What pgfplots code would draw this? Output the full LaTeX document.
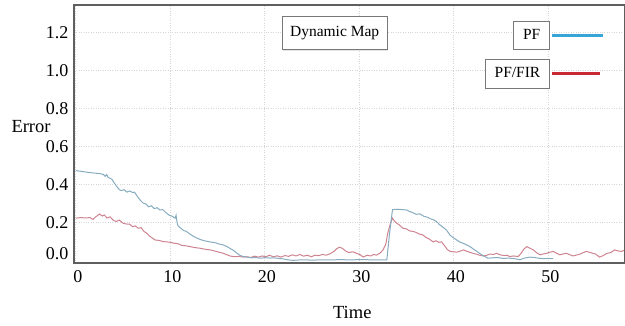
\documentclass[border=0pt]{standalone}
\usepackage{pgfplots}
\pgfplotsset{compat=1.18}
\usepackage{fontspec}
\setmainfont{Liberation Serif}
\usetikzlibrary{shadows}
\definecolor{pfline}{RGB}{135,172,192}
\definecolor{firline}{RGB}{206,132,144}
\definecolor{pfleg}{RGB}{55,165,215}
\definecolor{firleg}{RGB}{200,40,50}
\definecolor{gridc}{RGB}{215,215,215}
\definecolor{framec}{RGB}{95,95,95}
\definecolor{boxc}{RGB}{120,120,120}
\begin{document}
\begin{tikzpicture}
\begin{axis}[
  name=ax,
  scale only axis,
  width=551pt, height=258pt,
  xmin=-0.2, xmax=58.1,
  ymin=-0.011, ymax=1.347,
  xtick={0,10,20,30,40,50},
  ytick={0.2,0.4,0.6,0.8,1.0,1.2},
  extra y ticks={0},
  extra y tick style={grid=none, yticklabel style={yshift=7pt}},
  yticklabel style={/pgf/number format/.cd, fixed, fixed zerofill, precision=1, /tikz/.cd},
  /pgf/number format/assume math mode=true,
  tick label style={font=\fontsize{18}{18}\selectfont},
  xticklabel style={yshift=-4pt, xshift=2pt},
  yticklabel style={xshift=-2pt},
  major tick length=0pt,
  grid=major,
  major grid style={gridc, dotted, line width=0.9pt},
  axis line style={framec, line width=1.4pt},
  xlabel={Time},
  ylabel={Error},
  every axis x label/.style={at={(rel axis cs:0.505,-0.19)}, anchor=center, font=\fontsize{18.5}{18.5}\selectfont},
  every axis y label/.style={at={(rel axis cs:-0.078,0.527)}, anchor=center, font=\fontsize{18.5}{18.5}\selectfont},
  legend plot pos=right,
  legend cell align=right,
  legend style={draw=none, fill=none, inner sep=0pt, at={(rel axis cs:0.962,0.94)}, anchor=north east,
    row sep=9pt, column sep=0pt,
    nodes={draw=boxc, line width=0.9pt, fill=white, font=\fontsize{15.5}{15.5}\selectfont, inner xsep=9.5pt, text height=11pt, text depth=3.5pt, inner ysep=7pt, outer sep=0pt}},
]
\addplot[firline, line width=1pt, forget plot] coordinates {
(0,0.225)(0.5,0.228)(1.0,0.226)(1.5,0.228)(1.8,0.218)(2.1,0.232)(2.5,0.247)(2.8,0.236)(3.0,0.242)(3.3,0.226)(3.6,0.232)(4.0,0.212)(4.3,0.208)(4.6,0.215)(5.0,0.198)(5.4,0.194)(5.7,0.193)(6.0,0.18)(6.3,0.184)(6.6,0.172)(6.9,0.175)(7.2,0.155)(7.5,0.146)(7.8,0.13)(8.1,0.12)(8.4,0.11)(8.8,0.108)(9.2,0.102)(9.6,0.10)(10.0,0.098)(10.4,0.093)(10.8,0.09)(11.2,0.082)(11.7,0.079)(12.1,0.075)(12.6,0.07)(13.1,0.067)(13.6,0.062)(14.2,0.058)(14.7,0.052)(15.2,0.045)(15.6,0.04)(16.0,0.032)(16.3,0.026)(16.8,0.022)(17.3,0.024)(17.7,0.02)(18.1,0.022)(18.5,0.018)(18.9,0.025)(19.3,0.02)(19.7,0.026)(20.1,0.022)(20.5,0.03)(20.9,0.021)(21.3,0.027)(21.7,0.02)(22.1,0.028)(22.5,0.024)(22.9,0.032)(23.3,0.026)(23.7,0.034)(24.1,0.025)(24.5,0.03)(24.9,0.022)(25.3,0.03)(25.7,0.028)(26.1,0.034)(26.5,0.03)(26.9,0.038)(27.3,0.05)(27.6,0.065)(27.9,0.072)(28.2,0.066)(28.6,0.05)(28.9,0.044)(29.3,0.048)(29.7,0.04)(30.1,0.032)(30.4,0.02)(30.8,0.03)(31.2,0.026)(31.5,0.034)(31.8,0.03)(32.2,0.042)(32.5,0.058)(32.8,0.09)(33.0,0.147)(33.3,0.2)(33.5,0.225)(33.7,0.21)(33.9,0.2)(34.2,0.19)(34.6,0.172)(35.0,0.168)(35.3,0.158)(35.7,0.155)(36.0,0.15)(36.3,0.142)(36.7,0.137)(37.0,0.125)(37.4,0.115)(37.8,0.10)(38.1,0.106)(38.4,0.098)(38.7,0.10)(39.0,0.08)(39.3,0.06)(39.6,0.05)(40.0,0.048)(40.3,0.046)(40.7,0.052)(41.0,0.058)(41.4,0.05)(41.7,0.045)(42.0,0.04)(42.4,0.035)(42.7,0.03)(43.1,0.026)(43.5,0.03)(43.8,0.036)(44.2,0.034)(44.5,0.04)(44.9,0.032)(45.3,0.028)(45.6,0.03)(45.9,0.023)(46.3,0.026)(46.8,0.023)(47.1,0.04)(47.4,0.062)(47.7,0.075)(48.0,0.068)(48.4,0.058)(48.7,0.045)(49.1,0.032)(49.4,0.036)(49.8,0.04)(50.1,0.045)(50.5,0.05)(50.8,0.042)(51.2,0.032)(51.5,0.036)(51.9,0.04)(52.2,0.034)(52.6,0.026)(52.9,0.03)(53.3,0.035)(53.6,0.042)(54.0,0.05)(54.3,0.046)(54.7,0.04)(55.0,0.036)(55.4,0.02)(55.7,0.026)(56.2,0.04)(56.6,0.044)(57.0,0.058)(57.4,0.052)(57.7,0.05)(58.0,0.055)
};
\addplot[pfline, line width=1pt, legend image code/.code={\draw[pfleg, line width=2.6pt] (0pt,0pt) -- (51pt,0pt);}] coordinates {
(0,0.475)(0.5,0.472)(1.0,0.468)(1.5,0.465)(2.0,0.462)(2.5,0.460)(2.9,0.455)(3.1,0.445)(3.25,0.455)(3.4,0.44)(3.8,0.43)(4.2,0.40)(4.6,0.375)(4.8,0.37)(5.1,0.375)(5.4,0.362)(5.7,0.368)(6.0,0.36)(6.2,0.362)(6.5,0.34)(6.8,0.32)(7.1,0.305)(7.4,0.30)(7.7,0.285)(8.0,0.29)(8.3,0.275)(8.6,0.28)(8.9,0.268)(9.2,0.27)(9.5,0.255)(9.9,0.24)(10.2,0.235)(10.5,0.225)(10.6,0.24)(10.7,0.205)(10.8,0.185)(11.1,0.172)(11.4,0.16)(11.7,0.155)(12.1,0.14)(12.5,0.128)(12.8,0.12)(13.2,0.112)(13.6,0.106)(14.2,0.10)(14.8,0.095)(15.2,0.088)(15.6,0.084)(16.0,0.075)(16.3,0.066)(16.6,0.058)(17.0,0.042)(17.4,0.028)(17.8,0.022)(18.1,0.02)(18.6,0.016)(19.0,0.018)(19.5,0.014)(20.0,0.017)(20.5,0.015)(21.0,0.016)(21.5,0.013)(22.0,0.01)(22.5,0.005)(23.0,0.003)(24,0.006)(25,0.004)(26,0.006)(27,0.005)(28,0.007)(29,0.005)(30,0.007)(31,0.006)(32,0.006)(32.9,0.006)(33.2,0.15)(33.5,0.27)(34.0,0.272)(34.5,0.27)(35.0,0.268)(35.3,0.26)(35.6,0.255)(36.0,0.245)(36.4,0.248)(36.8,0.235)(37.2,0.23)(37.5,0.222)(37.9,0.215)(38.2,0.205)(38.5,0.19)(38.9,0.175)(39.2,0.163)(39.6,0.135)(40.0,0.12)(40.6,0.10)(41.1,0.09)(41.7,0.075)(42.2,0.058)(42.7,0.04)(43.2,0.025)(43.6,0.014)(44.0,0.016)(44.6,0.018)(45.2,0.013)(45.8,0.015)(46.4,0.012)(47.0,0.006)(47.4,0.014)(48.0,0.02)(48.5,0.018)(49.0,0.014)(49.5,0.012)(50.0,0.013)(50.5,0.012)
};
\addlegendentry{PF}
\addlegendimage{firline, legend image code/.code={\draw[firleg, line width=2.6pt] (0pt,0pt) -- (48pt,0pt);}}
\addlegendentry{PF/FIR}
\node[draw=boxc, line width=0.9pt, fill=white, drop shadow={opacity=0.2, shadow xshift=1pt, shadow yshift=-1pt},
  font=\fontsize{15.5}{15.5}\selectfont, minimum width=105pt, minimum height=33pt, inner sep=0pt]
  at (rel axis cs:0.473,0.89) {Dynamic Map};
\end{axis}
\pgfresetboundingbox
\path ([xshift=-74pt,yshift=-63pt]ax.south west) rectangle ([yshift=5pt]ax.north east);
\end{tikzpicture}
\end{document}
